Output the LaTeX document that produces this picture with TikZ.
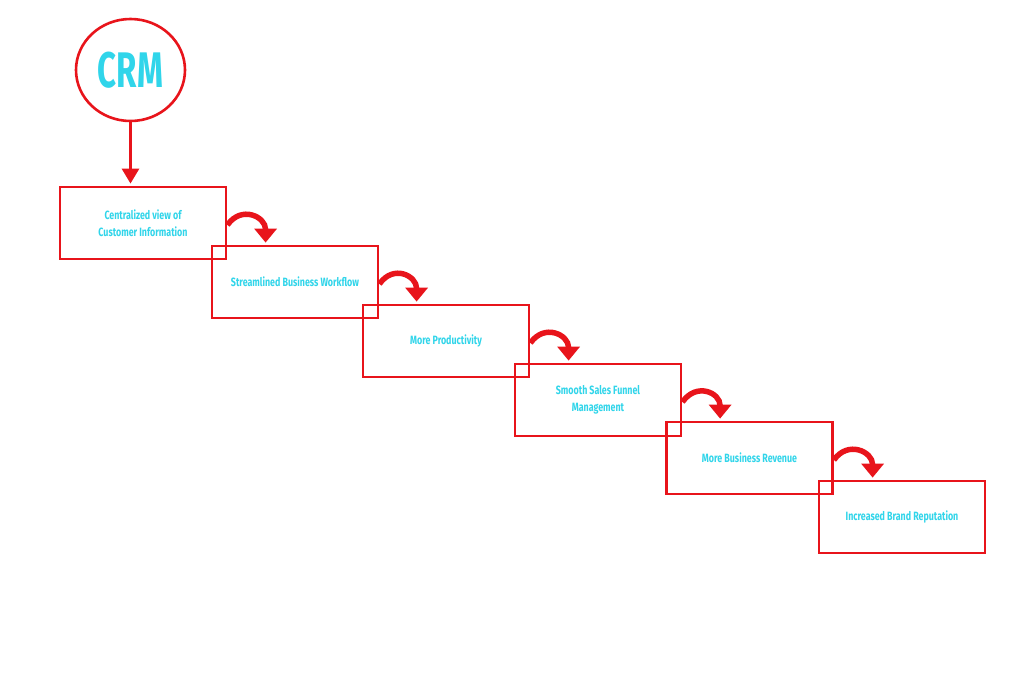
\documentclass[tikz,border=0pt]{standalone}
\usepackage{fontspec}
\newfontfamily\boxfont[FakeStretch=0.74]{Fira Sans}
\newfontfamily\crmfont[FakeStretch=0.66]{Fira Sans}
\usetikzlibrary{arrows.meta,shapes.geometric,calc}
\definecolor{crmred}{HTML}{E8141B}
\definecolor{crmcyan}{HTML}{30D5EA}
\tikzset{
  stepbox/.style={draw=crmred, line width=2.8pt, minimum width=166pt, minimum height=72pt,
    inner sep=0pt, align=center, font=\boxfont\bfseries\fontsize{12}{17}\selectfont, text=crmcyan},
  crmnode/.style={ellipse, draw=crmred, line width=2.6pt, minimum width=109pt, minimum height=102pt,
    inner sep=0pt, font=\crmfont\bfseries\fontsize{50}{50}\selectfont, text=crmcyan},
  downarrow/.style={draw=crmred, line width=3pt, -{Triangle[width=17pt,length=15pt]}},
  curvearrow/.style={draw=crmred, line width=5.5pt, -{Triangle[width=22pt,length=14pt]}}
}
\begin{document}
\begin{tikzpicture}[x=1pt,y=1pt]
\fill[white] (0,0) rectangle (1024,-683);
\useasboundingbox (0,0) rectangle (1024,-683);
\node[crmnode] (crm) at (130.5,-70) {CRM};
\node[stepbox] (b1) at (143,-223) {Centralized view of\\Customer Information};
\node[stepbox] (b2) at (295,-282) {Streamlined Business Workflow};
\node[stepbox] (b3) at (446,-341) {More Productivity};
\node[stepbox] (b4) at (598,-400) {Smooth Sales Funnel\\Management};
\node[stepbox] (b5) at (749.5,-458) {More Business Revenue};
\node[stepbox] (b6) at (902,-517) {Increased Brand Reputation};
\draw[downarrow] (crm.south) -- ([yshift=2pt]b1.north -| crm.south);
\foreach \a/\b in {b1/b2,b2/b3,b3/b4,b4/b5,b5/b6}{
  \draw[curvearrow] ([yshift=-2pt]\a.east) .. controls +(14,20) and +(0,26) .. ($(\b.north west)+(55,2)$);
}
\end{tikzpicture}
\end{document}
